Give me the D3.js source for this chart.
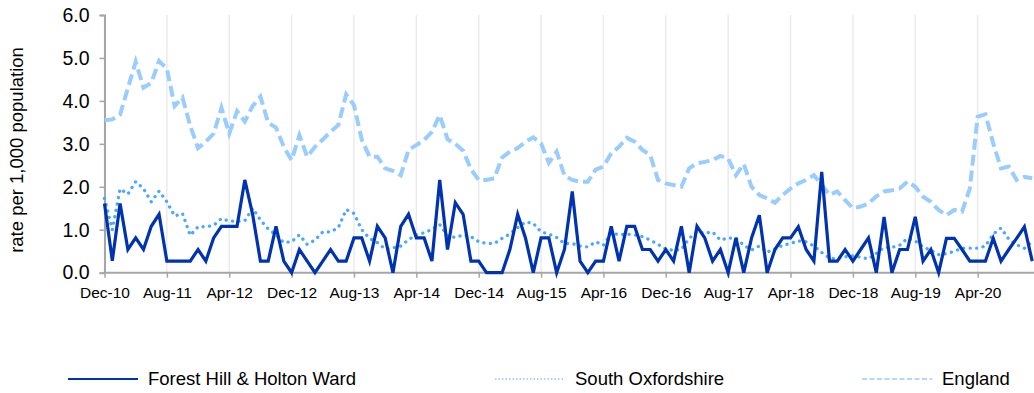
<!DOCTYPE html>
<html>
<head>
<meta charset="utf-8">
<script src="https://cdn.jsdelivr.net/npm/d3@7"></script>
<style>
html,body{margin:0;padding:0;background:#fff;}
svg{display:block;font-family:"Liberation Sans",Arial,Helvetica,sans-serif;}
</style>
</head>
<body>
<svg id="chart" width="1034" height="393"></svg>
<script>
// ---- data (monthly, Dec-10 .. Nov-20) ----
const startMonth = new Date(2010, 11, 1);
const endMonth = new Date(2020, 11, 1);

const tickLabels = ["Dec-10","Aug-11","Apr-12","Dec-12","Aug-13","Apr-14","Dec-14","Aug-15","Apr-16","Dec-16","Aug-17","Apr-18","Dec-18","Aug-19","Apr-20"];
const yTickValues = [0, 1, 2, 3, 4, 5, 6];
const seriesNames = ["Forest Hill & Holton Ward", "South Oxfordshire", "England"];

const forestHill = [
  1.61,0.28,1.61,0.54,0.81,0.54,1.08,1.36,0.27,0.27,
  0.27,0.27,0.54,0.27,0.81,1.08,1.08,1.08,2.16,1.36,
  0.27,0.27,1.08,0.27,0.00,0.54,0.27,0.00,0.27,0.54,
  0.27,0.27,0.81,0.81,0.27,1.08,0.81,0.00,1.08,1.36,
  0.81,0.81,0.27,2.16,0.54,1.63,1.36,0.27,0.27,0.00,
  0.00,0.00,0.54,1.36,0.81,0.00,0.81,0.81,0.00,0.54,
  1.89,0.27,0.00,0.27,0.27,1.08,0.27,1.08,1.08,0.54,
  0.54,0.27,0.54,0.27,1.08,0.00,1.08,0.81,0.27,0.54,
  0.00,0.81,0.00,0.81,1.34,0.00,0.54,0.81,0.81,1.07,
  0.54,0.27,2.35,0.27,0.27,0.54,0.27,0.54,0.81,0.00,
  1.30,0.00,0.54,0.54,1.30,0.27,0.54,0.00,0.80,0.80,
  0.54,0.27,0.27,0.27,0.80,0.27,0.54,0.80,1.07,0.27
];

const southOxfordshire = [
  1.73,1.00,1.95,1.83,2.12,1.96,1.65,1.90,1.65,1.32,
  1.38,0.87,1.07,1.07,1.10,1.26,1.20,1.20,1.21,1.50,
  1.23,1.02,0.88,0.70,0.72,0.88,0.66,0.76,0.95,0.95,
  1.05,1.47,1.38,1.00,0.80,0.70,0.55,0.58,0.62,0.77,
  0.88,0.93,1.01,1.12,0.86,0.82,0.88,0.84,0.72,0.68,
  0.68,0.80,0.90,1.05,1.18,1.15,0.95,0.90,0.82,0.68,
  0.68,0.62,0.60,0.72,0.64,0.93,0.88,0.90,0.88,0.84,
  0.76,0.66,0.55,0.52,0.54,0.80,0.95,0.92,0.95,0.76,
  0.81,0.80,0.64,0.53,0.62,0.48,0.55,0.64,0.68,0.74,
  0.72,0.62,0.47,0.34,0.33,0.37,0.39,0.36,0.32,0.45,
  0.59,0.59,0.64,0.80,0.74,0.60,0.52,0.42,0.44,0.50,
  0.57,0.57,0.57,0.62,0.90,1.04,0.78,0.65,0.57,0.72
];

const england = [
  3.55,3.57,3.68,4.30,4.91,4.31,4.42,4.93,4.75,3.88,
  4.08,3.42,2.90,3.05,3.24,3.84,3.24,3.76,3.52,3.88,
  4.10,3.49,3.38,2.93,2.62,3.20,2.70,2.93,3.10,3.28,
  3.44,4.15,3.90,3.10,2.70,2.70,2.43,2.37,2.27,2.86,
  2.97,3.09,3.28,3.67,3.11,3.00,2.84,2.41,2.16,2.16,
  2.20,2.68,2.82,2.90,3.05,3.15,3.01,2.56,2.82,2.26,
  2.16,2.12,2.12,2.40,2.47,2.78,2.93,3.14,3.05,2.86,
  2.74,2.16,2.08,2.04,2.00,2.43,2.55,2.58,2.62,2.72,
  2.66,2.27,2.53,2.00,1.81,1.73,1.63,1.81,1.96,2.08,
  2.16,2.27,2.04,1.81,1.89,1.69,1.50,1.54,1.61,1.78,
  1.89,1.92,1.96,2.12,2.00,1.77,1.65,1.46,1.34,1.46,
  1.42,1.96,3.63,3.69,3.01,2.43,2.47,2.16,2.23,2.20
];

// ---- chart ----
const fmtMonth = d3.timeFormat("%b-%y");
const categories = d3.timeMonth.range(startMonth, endMonth).map(fmtMonth);

const W = 1034, H = 393;
const plotLeft = 104.5, plotRight = 1032.2, plotTop = 15, plotBottom = 272.7;

const svg = d3.select("#chart");

const x = d3.scalePoint().domain(categories).range([plotLeft, plotRight]);
const y = d3.scaleLinear().domain([0, 6]).range([plotBottom, plotTop]);

// vertical gridlines
svg.append("g")
  .selectAll("line")
  .data(tickLabels)
  .join("line")
  .attr("x1", d => x(d)).attr("x2", d => x(d))
  .attr("y1", plotTop).attr("y2", plotBottom)
  .attr("stroke", "#ebebeb")
  .attr("stroke-width", 1.5);

// y axis
const yAxis = svg.append("g")
  .attr("transform", `translate(${plotLeft},0)`)
  .call(d3.axisLeft(y).tickValues(yTickValues).tickFormat(d3.format(".1f")).tickSize(5).tickPadding(10));
yAxis.select(".domain").attr("stroke", "#a6a6a6").attr("stroke-width", 2);
yAxis.selectAll(".tick line").attr("stroke", "#a6a6a6").attr("stroke-width", 1.5);
yAxis.selectAll(".tick text").attr("font-size", 19.5).attr("fill", "#000").attr("font-family", "Liberation Sans, Arial, sans-serif");

// x axis
const xAxis = svg.append("g")
  .attr("transform", `translate(0,${plotBottom})`)
  .call(d3.axisBottom(x).tickValues(tickLabels).tickSize(5).tickPadding(9));
xAxis.select(".domain").remove();
xAxis.append("line")
  .attr("x1", plotLeft - 1).attr("x2", W)
  .attr("y1", 0).attr("y2", 0)
  .attr("stroke", "#a6a6a6").attr("stroke-width", 2);
xAxis.selectAll(".tick line").attr("stroke", "#a6a6a6").attr("stroke-width", 1.5);
xAxis.selectAll(".tick text").attr("font-size", 15.5).attr("fill", "#000").attr("font-family", "Liberation Sans, Arial, sans-serif");

// y title
svg.append("text")
  .attr("transform", `translate(23,150) rotate(-90)`)
  .attr("text-anchor", "middle")
  .attr("font-size", 18.5)
  .attr("fill", "#000")
  .text("rate per 1,000 population");

const line = d3.line()
  .x((d, i) => x(categories[i]))
  .y(d => y(d));

const styles = [
  { data: forestHill, color: "#0033b0", width: 3.2, dash: null, cap: "butt", lDash: null, lWidth: 2 },
  { data: southOxfordshire, color: "#4da6ff", width: 3.3, dash: "0.1 6.4", cap: "round", lDash: "1.5 2", lWidth: 1.2 },
  { data: england, color: "#99ccff", width: 4, dash: "11 5", cap: "butt", lDash: "5 2.5", lWidth: 1.5 }
];

// draw England, South Oxon, then Forest Hill on top
[2, 1, 0].forEach(k => {
  const s = styles[k];
  svg.append("path")
    .datum(s.data)
    .attr("fill", "none")
    .attr("stroke", s.color)
    .attr("stroke-width", s.width)
    .attr("stroke-linejoin", "miter")
    .attr("stroke-linecap", s.cap)
    .attr("stroke-dasharray", s.dash)
    .attr("d", line);
});

// legend
const legendX = [68, 495, 862];
const legendY = 379;
const legend = svg.append("g");
seriesNames.forEach((name, k) => {
  const s = styles[k];
  legend.append("line")
    .attr("x1", legendX[k]).attr("x2", legendX[k] + 70)
    .attr("y1", legendY).attr("y2", legendY)
    .attr("stroke", s.color)
    .attr("stroke-width", s.lWidth)
    .attr("stroke-dasharray", s.lDash);
  legend.append("text")
    .attr("x", legendX[k] + 80)
    .attr("y", legendY)
    .attr("dy", "0.35em")
    .attr("font-size", 18.5)
    .attr("fill", "#000")
    .text(name);
});
</script>
</body>
</html>
